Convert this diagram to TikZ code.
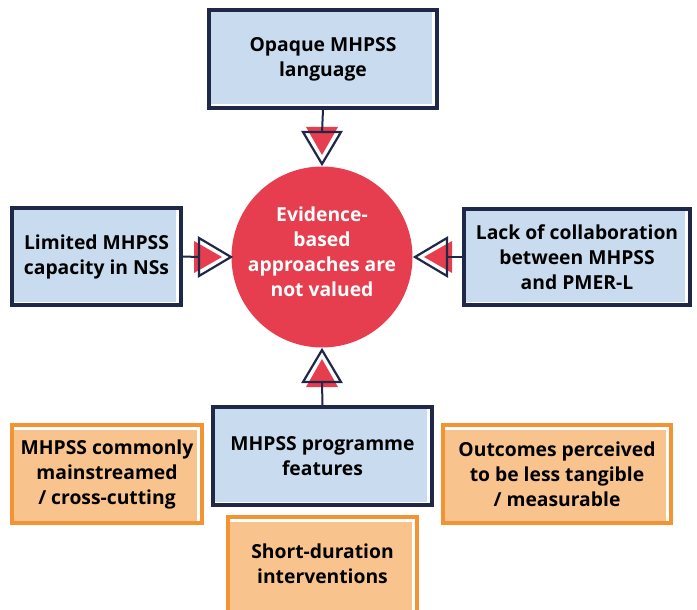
\documentclass[tikz,border=0pt]{standalone}
\usepackage{fontspec}
\setmainfont{Open Sans}
\definecolor{navy}{HTML}{1F2847}
\definecolor{bluefill}{HTML}{C9DCEF}
\definecolor{orangeline}{HTML}{F39331}
\definecolor{orangefill}{HTML}{F8C38C}
\definecolor{redc}{HTML}{E63E4E}
\tikzset{
  txt/.style={align=center, text=black, font=\bfseries\fontsize{19.3}{25}\selectfont, inner sep=0pt},
  bbox/.style={txt, draw=navy, line width=3.5pt, fill=white, inner sep=0pt,
    path picture={\fill[bluefill] ([xshift=1.75pt,yshift=-1.75pt]path picture bounding box.north west) rectangle ([xshift=-5pt,yshift=3.5pt]path picture bounding box.south east);}},
  obox/.style={txt, draw=orangeline, line width=3.5pt, fill=white, inner sep=0pt,
    path picture={\fill[orangefill] ([xshift=1.75pt,yshift=-4.5pt]path picture bounding box.north west) rectangle ([xshift=-5pt,yshift=1.75pt]path picture bounding box.south east);}},
  conn/.style={draw=navy, line width=2pt},
  hollow/.style={draw=navy, line width=2.2pt, line join=miter},
}
% #1,#2 apex; #3,#4 unit direction of pointing
\newcommand\mytri[4]{%
  \fill[redc] ({#1-9*(#3)},{#2-9*(#4)}) -- ({#1-37*(#3)-16*(#4)},{#2-37*(#4)+16*(#3)}) -- ({#1-37*(#3)+16*(#4)},{#2-37*(#4)-16*(#3)}) -- cycle;
  \draw[hollow] ({#1},{#2}) -- ({#1-32*(#3)-19*(#4)},{#2-32*(#4)+19*(#3)}) -- ({#1-32*(#3)+19*(#4)},{#2-32*(#4)-19*(#3)}) -- cycle;
}
\begin{document}
\begin{tikzpicture}[x=1pt,y=-1pt]
\useasboundingbox (0,0) rectangle (697,610);
\clip (0,0) rectangle (697,610);

% central circle
\node[circle, fill=redc, minimum size=181pt, inner sep=0pt] (c) at (322,257) {};
\node[txt, text=white] (ct) at (322,252) {Evidence-\\based\\approaches are\\not valued};

% blue boxes
\node[bbox, minimum width=228pt, minimum height=98pt] (top) at (323,59) {Opaque MHPSS\\language};
\node[bbox, minimum width=169pt, minimum height=97pt] (left) at (96.5,256.5) {Limited MHPSS\\capacity in NSs};
\node[bbox, minimum width=226pt, minimum height=96pt] (right) at (577,257) {Lack of collaboration\\between MHPSS\\and PMER-L};
\node[bbox, minimum width=219pt, minimum height=98pt] (bot) at (322.5,456) {MHPSS programme\\features};

% orange boxes
\node[obox, minimum width=190pt, minimum height=98pt] (ol) at (107,474) {MHPSS commonly\\mainstreamed\\/ cross-cutting};
\node[obox, minimum width=228pt, minimum height=98pt] (or) at (557,474) {Outcomes perceived\\to be less tangible\\/ measurable};
\node[obox, minimum width=189pt, minimum height=110pt] (ob) at (322.5,572) {};
\node[txt] (obt) at (322.5,564) {Short-duration\\interventions};

% arrows
\mytri{322}{164}{0}{1}
\coordinate (tb) at (322,133);
\draw[conn] (top.south) -- (tb);

\mytri{231}{257}{1}{0}
\coordinate (lb) at (199,257);
\draw[conn] (left.east) -- (lb);

\mytri{415}{257}{-1}{0}
\coordinate (rb) at (447,257);
\draw[conn] (right.west) -- (rb);

\mytri{322}{350}{0}{-1}
\coordinate (bb) at (322,382);
\draw[conn] (bot.north) -- (bb);
\end{tikzpicture}
\end{document}
